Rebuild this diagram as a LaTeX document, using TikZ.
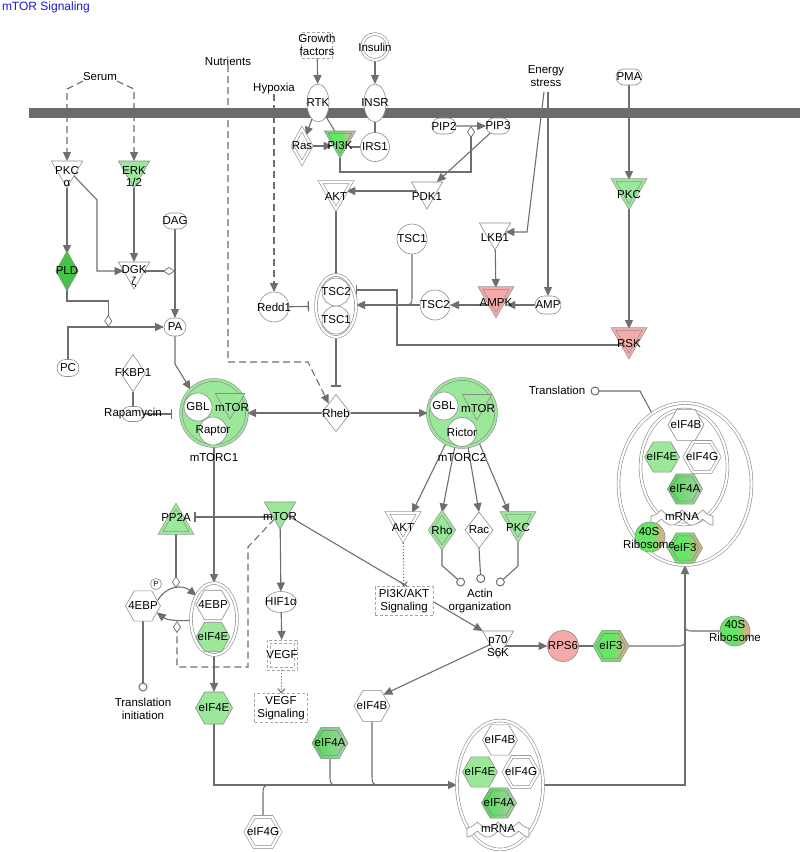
\documentclass[tikz,border=0pt]{standalone}
\usepackage{fontspec}
\setmainfont{Liberation Sans}
\usetikzlibrary{arrows.meta,shapes.geometric,shapes.misc,calc,backgrounds}
\newcommand{\fsz}{\fontsize{11.5}{12.5}\selectfont}
\definecolor{lc}{HTML}{6E6E6E}
\definecolor{oc}{HTML}{8C8C8C}
\definecolor{lg}{HTML}{9BE89B}
\definecolor{dg}{HTML}{3DCB3D}
\definecolor{gtwo}{HTML}{66E666}
\definecolor{sal}{HTML}{EDA58C}
\definecolor{rd}{HTML}{F5AAAA}
\definecolor{mg}{HTML}{4FD84F}
\definecolor{gg}{HTML}{A9D4A9}
\definecolor{ttl}{HTML}{1A1AD2}
\definecolor{mem}{HTML}{6B6B6B}
\pgfdeclarehorizontalshading{grsal}{100bp}{color(0bp)=(gtwo); color(52bp)=(gtwo); color(75bp)=(sal); color(100bp)=(sal)}
\pgfdeclarehorizontalshading{grred}{100bp}{color(0bp)=(gtwo); color(50bp)=(gtwo); color(75bp)=(rd); color(100bp)=(rd)}
\newcommand{\mrnawave}[2]{%
 \filldraw[draw=oc, fill=white, line width=0.6pt] plot[domain=-31:31, samples=61] ({#1+\x},{#2-7+6*abs(sin(\x*8.7))}) -- plot[domain=31:-31, samples=61] ({#1+\x},{#2+2+6*abs(sin(\x*8.7))}) -- cycle;}
\tikzset{
 every node/.style={inner sep=0pt, outer sep=0pt},
 lbl/.style={font=\fsz, align=center, text=black},
 nd/.style={draw=oc, line width=0.6pt, fill=white},
 dbl/.style={double=#1, double distance=2.2pt},
 tri/.style={nd, regular polygon, regular polygon sides=3, shape border rotate=180, minimum size=36pt},
 triu/.style={nd, regular polygon, regular polygon sides=3, minimum size=36pt},
 hex/.style={nd, regular polygon, regular polygon sides=6, minimum size=36pt},
 circ/.style={nd, circle, minimum size=30pt},
 dia/.style={nd, diamond},
 ov/.style={nd, rounded rectangle, minimum width=24pt, minimum height=16pt},
 ell/.style={nd, ellipse},
 dbox/.style={draw=gray!70, dash pattern=on 3pt off 2pt, line width=0.7pt, fill=white, rectangle},
 tl/.style={label={[lbl,yshift=-6pt]center:{#1}}},
 cl/.style={label={[lbl]center:{#1}}},
 ln/.style={draw=lc, line width=1.1pt},
 arr/.style={ln, -{Triangle[length=9pt,width=8pt]}},
 inh/.style={ln, -{Bar[width=10pt,line width=1.3pt]}},
 dsh/.style={dash pattern=on 7pt off 4pt},
 cend/.style={ln, -{Circle[open,length=9pt,width=9pt,fill=white,line width=1pt]}},
 dend/.style={ln, -{Diamond[open,length=12pt,width=8pt,fill=white,line width=0.7pt]}},
 dotarr/.style={ln, dotted, -{Straight Barb[length=4pt,width=7pt]}},
}
\begin{document}
\begin{tikzpicture}[x=1pt,y=-1pt]
\useasboundingbox (0,0) rectangle (800,852);

% ---------- title and inputs
\node[lbl, font=\fontsize{12}{14}\selectfont, text=ttl, anchor=north west] (title) at (2,2) {mTOR Signaling};
\node[lbl] (serum) at (100,77) {Serum};
\node[lbl] (nutr) at (228,61) {Nutrients};
\node[lbl] (hyp) at (274,89) {Hypoxia};
\node[dbox, minimum width=31pt, minimum height=26pt, cl={Growth\\factors}] (gf) at (317,45) {};
\node[nd, circle, dbl=white, minimum size=26pt, cl=Insulin] (ins) at (375,47) {};
\node[lbl] (energy) at (546,76) {Energy\\stress};
\node[ov, minimum width=26pt, cl=PMA] (pma) at (629,77) {};

% ---------- upper middle
\node[ell, minimum width=22pt, minimum height=38pt, cl=RTK] (rtk) at (318,103) {};
\node[ell, minimum width=22pt, minimum height=38pt, cl=INSR] (insr) at (375,103) {};
\node[dia, dbl=white, minimum width=19pt, minimum height=34pt, cl=Ras] (ras) at (302,146) {};
\node[tri, shading=grred] (pi3k) at (340,140) {};
\node[tri, fill=none, minimum size=27pt, tl=PI3K] (pi3kin) at (340,140) {};
\node[circ, minimum size=29pt, cl=IRS1] (irs1) at (375,147) {};
\node[ov, cl=PIP2] (pip2) at (444,126) {};
\node[ov, cl=PIP3] (pip3) at (498,126) {};
\node[tri, dbl=white, tl=AKT] (akt1) at (336,191) {};
\node[tri, tl=PDK1] (pdk1) at (427,191) {};
\node[circ, cl=TSC1] (tsc1) at (412,239) {};
\node[tri, tl=LKB1] (lkb1) at (495,232) {};
\node[tri, fill=rd, dbl=rd, tl=AMPK] (ampk) at (496,297) {};
\node[ov, minimum width=26pt, minimum height=18pt, cl=AMP] (amp) at (548,305) {};
\node[circ, cl=TSC2] (tsc2) at (435,305) {};
\node[tri, fill=lg, dbl=lg, tl=PKC] (pkcr) at (629,189) {};
\node[tri, fill=rd, dbl=rd, tl=RSK] (rsk) at (629,338) {};
\node[circ, cl=Redd1] (redd1) at (274,307) {};
\node[ell, dbl=white, minimum width=40pt, minimum height=62pt] (tscc) at (336,306) {};
\node[circ, minimum size=28pt, cl=TSC2] (tsc2c) at (336,292) {};
\node[circ, minimum size=28pt, cl=TSC1] (tsc1c) at (336,320) {};

% ---------- left
\node[tri, label={[lbl,yshift=-6.5pt]center:{PKC\\α}}] (pkca) at (67,170) {};
\node[tri, fill=lg, label={[lbl,yshift=-6.5pt]center:{ERK\\1/2}}] (erk) at (134,170) {};
\node[ov, cl=DAG] (dag) at (175,221) {};
\node[dia, fill=dg, dbl=dg, minimum width=19pt, minimum height=34pt, cl=PLD] (pld) at (67,271) {};
\node[tri, label={[lbl,yshift=-5.5pt]center:{DGK\\ζ}}] (dgk) at (134,271) {};
\node[ov, minimum width=22pt, minimum height=18pt, cl=PA] (pa) at (175,327) {};
\node[ov, minimum width=22pt, minimum height=17pt, cl=PC] (pc) at (68,368) {};
\node[dia, minimum width=25pt, minimum height=37pt, cl=FKBP1] (fkbp) at (133,373) {};
\node[ov, minimum width=22pt, minimum height=15pt, cl=Rapamycin] (rapa) at (133,414) {};

% ---------- mTORC1
\node[circ, fill=lg, dbl=lg, minimum size=66pt] (mtorc1) at (214,413) {};
\node[tri, fill=lg, minimum size=34pt] (mtor1) at (230,402) {};
\node[circ, minimum size=28pt, cl=GBL] (gbl1) at (198,407) {};
\node[circ, minimum size=28pt, cl=Raptor] (raptor) at (213,431) {};
\node[lbl] (mtor1t) at (232,408) {mTOR};
\node[lbl] (mtorc1t) at (214,458) {mTORC1};

% ---------- Rheb and mTORC2
\node[dia, minimum width=29pt, minimum height=37pt, cl=Rheb] (rheb) at (336,413) {};
\node[circ, fill=lg, dbl=lg, minimum size=68pt] (mtorc2) at (462,413) {};
\node[tri, fill=lg, minimum size=34pt] (mtor2c) at (477,403) {};
\node[circ, minimum size=28pt, cl=GBL] (gbl2) at (444,406) {};
\node[circ, minimum size=29pt, cl=Rictor] (rictor) at (462,432) {};
\node[lbl] (mtor2t) at (478,409) {mTOR};
\node[lbl] (mtorc2t) at (462,458) {mTORC2};

% ---------- lower left
\node[triu, fill=lg, dbl=lg, label={[lbl,yshift=7pt]center:PP2A}] (pp2a) at (176,524) {};
\node[tri, fill=lg, tl=mTOR] (mtor2) at (280,511) {};
\node[hex, minimum size=35pt, cl=4EBP] (ebp1) at (143,606) {};
\node[nd, circle, minimum size=11pt, label={[font=\fontsize{7.5}{8}\selectfont]center:P}] (phos) at (156,584) {};
\node[ell, dbl=white, minimum width=46pt, minimum height=72pt] (ebpc) at (214,619) {};
\node[hex, minimum size=34pt, cl=4EBP] (ebpc1) at (213,605) {};
\node[hex, minimum size=34pt, fill=lg, cl=eIF4E] (ebpc2) at (213,637) {};
\node[hex, fill=lg, minimum size=37pt, cl=eIF4E] (eif4e) at (214,708) {};
\node[ell, minimum width=31pt, minimum height=21pt, cl=HIF1α] (hif) at (281,602) {};
\node[dbox, minimum size=30pt] (vegf) at (282,655) {};
\node[dbox, fill=none, minimum size=24pt, cl=VEGF] (vegfin) at (282,655) {};
\node[dbox, minimum width=53pt, minimum height=29pt, cl={VEGF\\Signaling}] (vegfs) at (281,708) {};
\node[lbl] (trinit) at (143,709) {Translation\\initiation};

% ---------- lower middle
\node[tri, dbl=white, tl=AKT] (akt2) at (403,522) {};
\node[dia, fill=lg, dbl=lg, minimum width=24pt, minimum height=35pt, cl=Rho] (rho) at (442,530) {};
\node[dia, minimum width=28pt, minimum height=36pt, cl=Rac] (rac) at (479,530) {};
\node[tri, fill=lg, dbl=lg, tl=PKC] (pkc2) at (518,522) {};
\node[lbl] (actin) at (480,601) {Actin\\organization};
\node[dbox, minimum width=58pt, minimum height=29pt, cl={PI3K/AKT\\Signaling}] (pi3kakt) at (404,601) {};
\node[tri, label={[lbl,yshift=-6pt]center:{p70\\S6K}}] (p70) at (498,640) {};
\node[circ, fill=rd, minimum size=31pt, cl=RPS6] (rps6) at (563,646) {};
\node[hex, shading=grsal] (eif3) at (611,646) {};
\node[hex, fill=none, minimum size=29pt, cl=eIF3] (eif3in) at (611,646) {};
\node[circ, shading=grsal, cl={40S\\Ribosome}] (ribo2) at (735,631) {};
\node[hex, cl=eIF4B] (eif4b) at (372,706) {};
\node[hex, left color=mg, right color=gg] (eif4a) at (330,743) {};
\node[hex, fill=none, minimum size=29pt, cl=eIF4A] (eif4ain) at (330,743) {};
\node[hex, dbl=white, minimum size=35pt, cl=eIF4G] (eif4g) at (263,832) {};

% ---------- lower complex
\node[ell, dbl=white, minimum width=86pt, minimum height=129pt] (lc) at (500,785) {};
\node[hex, minimum size=35pt, cl=eIF4B] (lc4b) at (500,740) {};
\node[hex, minimum size=35pt, fill=lg, cl=eIF4E] (lc4e) at (480,772) {};
\node[hex, minimum size=35pt, dbl=white, cl=eIF4G] (lc4g) at (521,772) {};
\node[hex, minimum size=35pt, left color=mg, right color=gg] (lc4a) at (499,803) {};
\node[hex, fill=none, minimum size=28pt, cl=eIF4A] (lc4ain) at (499,803) {};
\mrnawave{498}{829}
\node[lbl] (lcmrna) at (498,829) {mRNA};

% ---------- upper right complex
\node[lbl] (transl) at (557,390) {Translation};
\node[ell, dbl=white, minimum width=133pt, minimum height=162pt] (uc) at (685,484) {};
\node[ell, dbl=white, minimum width=87pt, minimum height=115pt] (ucin) at (684,467) {};
\node[hex, cl=eIF4B] (uc4b) at (686,425) {};
\node[hex, fill=lg, minimum size=35pt, cl=eIF4E] (uc4e) at (662,457) {};
\node[hex, dbl=white, minimum size=35pt, cl=eIF4G] (uc4g) at (702,457) {};
\node[hex, minimum size=35pt, left color=mg, right color=gg] (uc4a) at (685,489) {};
\node[hex, fill=none, minimum size=28pt, cl=eIF4A] (uc4ain) at (685,489) {};
\mrnawave{682}{517}
\node[lbl] (ucmrna) at (682,517) {mRNA};
\node[circ, shading=grsal] (ribo1) at (650,537) {};
\node[hex, minimum size=35pt, shading=grsal] (uc3) at (685,548) {};
\node[hex, fill=none, minimum size=28pt, cl=eIF3] (uc3in) at (685,548) {};
\node[lbl] (ribo1t) at (649,538) {40S\\Ribosome};

% ---------- helper coordinates
\coordinate (pipm) at ($(pip2.east)!0.5!(pip3.west)$);
\coordinate (pcpa) at (pc.north |- pa.west);
\coordinate (rska) at ($(rsk.center)+(0,7)$);
\coordinate (rskbar) at (356,290);
\coordinate (m2a) at ($(mtor2.center)+(0,6)$);
\coordinate (p70a) at ($(p70.center)+(0,6)$);
\coordinate (arctop) at (176,588);
\coordinate (arcbot) at (177,621);
\coordinate (trc1) at (143,691.5);
\coordinate (trc2) at (590.5,391);
\coordinate (act1) at (464,585);
\coordinate (act2) at (481,583);
\coordinate (act3) at (497,585);
\coordinate (es1) at (544,92);
\coordinate (es2) at (548,92);

% ---------- edges (under the nodes)
\begin{scope}[on background layer]
\fill[mem] (29,108) rectangle (800,118);
\draw[arr, dsh] (serum.south west) -- (67,89) -- (pkca.90);
\draw[arr, dsh] (serum.south east) -- (134,89) -- (erk.90);
\draw[arr, dsh] (nutr.south) |- (308,362) -- (rheb.north west);
\draw[arr, dsh] (hyp.south) -- (redd1.north);
\draw[arr] (gf) -- (rtk);
\draw[arr] (ins) -- (insr);
\draw[ln] (insr) -- (irs1);
\draw[arr] (rtk) -- (ras);
\draw[ln] (rtk) -- (pi3k);
\draw[arr] (ras.east) -- ([xshift=3pt]ras.east -| pi3k.180);
\draw[ln] (irs1.west) -- (irs1.west -| pi3k.0);
\draw[arr] (pip2) -- (pip3);
\draw[dend] (pi3k.270) -- ++(0,14) -| (pipm);
\draw[arr] (pip3) -- (pdk1);
\draw[arr] (pdk1) -- (akt1);
\draw[inh] (akt1) -- (tscc);
\draw[ln] (tsc1.south) -- (412,295) .. controls (412,305) .. (402,305);
\draw[arr] (tsc2) -- (tsc2 -| tscc.east);
\draw[inh, shorten >=7pt] (redd1) -- (tscc);
\draw[inh] (rska) -| (397,290) -- (rskbar);
\draw[arr] (lkb1) -- (ampk);
\draw[arr] (es1) -- (527,232) -- (lkb1.0);
\draw[arr] (es2) -- (amp.north);
\draw[arr] (amp.west) -- (amp.west -| ampk.0);
\draw[arr] (ampk.center |- tsc2) -- (tsc2);
\draw[arr] (pma) -- (pkcr);
\draw[arr] (pkcr) -- (rsk);
\draw[arr] (pkca) -- (pld);
\draw[arr] (erk) -- (dgk);
\draw[arr] (pkca.320) -- (97,200) |- (dgk.180);
\draw[arr] (dag) -- (pa);
\draw[dend] (dgk.0) -- (dgk.0 -| pa);
\draw[arr] (pc.north) |- (pa.west);
\draw[dend] (pld.south) -- ++(0,13) -| ($(pcpa)!0.42!(pa.west)$);
\draw[arr] (pa.south) -- ++(0,28) -- (mtorc1.135);
\draw[ln] (fkbp) -- (rapa);
\draw[inh, shorten >=9pt] (rapa.east) -- (rapa.east -| mtorc1.west);
\draw[arr] (rheb) -- (mtorc1);
\draw[arr] (rheb) -- (mtorc2);
\draw[inh, shorten >=8pt] (tscc) -- (rheb);
\draw[arr] (mtorc1) -- (ebpc);
\draw[arr] (mtorc2.242) -- (akt2.45);
\draw[arr] (mtorc2.258) -- (rho.north);
\draw[arr] (mtorc2.280) -- (rac.north);
\draw[arr] (mtorc2.300) -- (pkc2.135);
\draw[cend] (rho.south) -- ++(0,18) -- (act1);
\draw[cend] (rac.south) -- (act2);
\draw[cend] (pkc2.270) -- ++(0,26) -- (act3);
\draw[dotarr] (akt2) -- (pi3kakt);
\draw[arr] (mtor2) -- (p70);
\draw[inh, shorten >=8pt] (m2a) -- (m2a -| pp2a.0);
\draw[dend] (pp2a.270) -- (arctop);
\draw[arr] (ebp1.20) .. controls (166,586) and (182,584) .. (ebpc.127);
\draw[arr] (ebpc.183) .. controls (184,621) and (168,621) .. (ebp1.-25);
\draw[dend, dsh] (mtor2.235) -- (248,547) -- (248,667) -| (arcbot);
\draw[cend] (ebp1.270) -- (trc1);
\draw[arr] (ebpc) -- (eif4e);
\draw[arr] (mtor2) -- (hif);
\draw[arr] (hif) -- (vegf);
\draw[dotarr] (vegf) -- (vegfs);
\draw[arr] (p70a) -- (rps6);
\draw[ln] (rps6) -- (eif3);
\draw[arr] (p70.210) -- (eif4b.45);
\draw[ln] (eif3.0) -- (675,646) .. controls (685,646) .. (685,636);
\draw[ln] (ribo2.west) -- (695,631) .. controls (685,631) .. (685,621);
\draw[arr] (lc.east) -- (685,785) -- (uc.south);
\draw[arr] (eif4e.270) |- (lc.west);
\draw[ln] (eif4a.270) -- (330,775) .. controls (330,785) .. (342,785);
\draw[ln] (eif4b.270) -- (372,773) .. controls (372,785) .. (384,785);
\draw[ln] (eif4g.90) -- (263,797) .. controls (263,785) .. (275,785);
\draw[cend] (uc.115) -- (640,391) -- (trc2);
\end{scope}
\end{tikzpicture}
\end{document}
